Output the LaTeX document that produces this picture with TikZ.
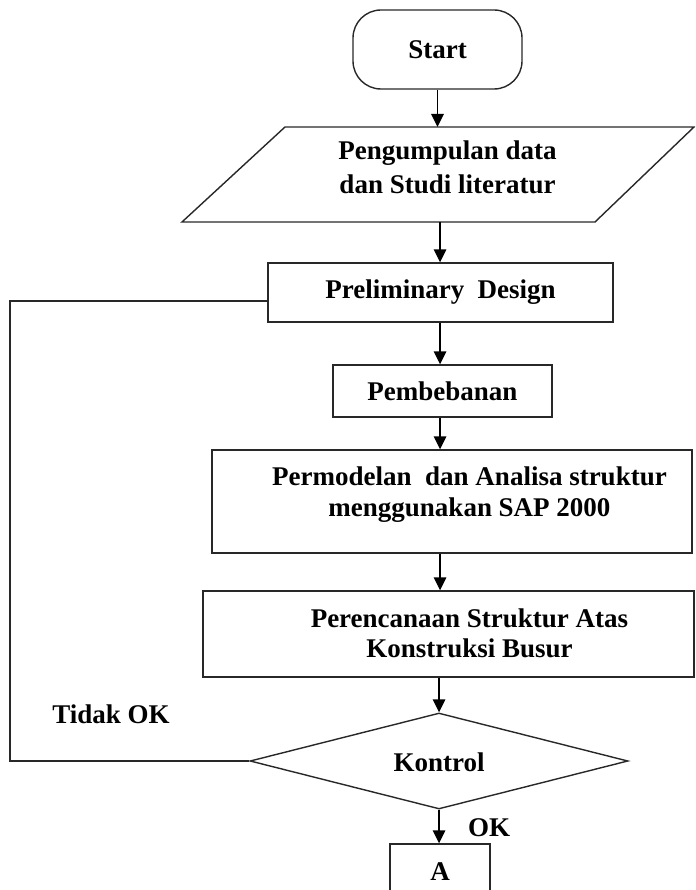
\documentclass[tikz,border=0pt]{standalone}
\usepackage{fontspec}
\setmainfont{Liberation Serif}
\usetikzlibrary{arrows.meta,shapes.geometric,calc}
\definecolor{linecol}{RGB}{40,40,40}
\begin{document}
\begin{tikzpicture}[x=1pt,y=-1pt,
  every node/.style={font=\fontsize{27}{31}\selectfont\bfseries, text=black},
  box/.style={draw=linecol, line width=1.4pt, inner sep=0pt, fill=white},
  txt/.style={align=center, inner sep=0pt},
  line/.style={draw=linecol, line width=1.4pt},
  conn/.style={draw=black, line width=1.6pt, -{Triangle[length=13pt,width=12.5pt]}}]
\clip (0,0) rectangle (695,890);
\fill[white] (0,0) rectangle (695,890);

% Start
\node[box, rounded corners=28pt, minimum width=169pt, minimum height=79pt] (start) at (437.5,49.5) {Start};

% Parallelogram
\coordinate (p1) at (285,127);
\coordinate (p2) at (694,127);
\coordinate (p3) at (595,222);
\coordinate (p4) at (182,222);
\coordinate (pgmbot) at (440,222);
\draw[line] (p1) -- (p2) -- (p3) -- (p4) -- cycle;
\node[txt, font=\fontsize{27}{34}\selectfont\bfseries] (pgmtext) at (447.5,167) {Pengumpulan data\\dan Studi literatur};

% Preliminary design
\node[box, minimum width=345pt, minimum height=59pt] (prelim) at (440.5,292.5) {Preliminary\ \ Design};

% Pembebanan
\node[box, minimum width=219pt, minimum height=52pt] (pemb) at (442.5,391) {Pembebanan};

% Permodelan
\node[box, minimum width=480pt, minimum height=103pt] (perm) at (452,501.5) {};
\node[txt] (permtext) at (469.5,495) {Permodelan\ \ dan Analisa struktur\\menggunakan SAP 2000};

% Perencanaan
\node[box, minimum width=491pt, minimum height=86pt] (peren) at (448.5,634) {};
\node[txt, font=\fontsize{27}{30}\selectfont\bfseries] (perentext) at (469.5,633) {Perencanaan Struktur Atas\\Konstruksi Busur};

% Kontrol
\node[box, diamond, minimum width=378pt, minimum height=96pt] (kontrol) at (439,761) {};
\node[txt] (kontroltext) at (439,762) {Kontrol};

% A
\node[box, minimum width=100pt, minimum height=55pt] (a) at (440,871.5) {A};

% Labels
\node[txt] (tidak) at (111,714) {Tidak OK};
\node[txt] (ok) at (489,828) {OK};

% Connectors
\draw[conn] (start.south) -- (start.south |- p1);
\draw[conn] (pgmbot) -- (pgmbot |- prelim.north);
\draw[conn] (prelim.south -| pgmbot) -- (pgmbot |- pemb.north);
\draw[conn] (pemb.south -| pgmbot) -- (pgmbot |- perm.north);
\draw[conn] (perm.south -| pgmbot) -- (pgmbot |- peren.north);
\draw[conn] (peren.south -| kontrol.north) -- (kontrol.north);
\draw[conn] (kontrol.south) -- (kontrol.south |- a.north);

% Feedback
\coordinate (fbl) at (10,761);
\coordinate (fbt) at (10,301);
\draw[line] (kontrol.west) -- (fbl) -- (fbt) -- (fbt -| prelim.west);
\end{tikzpicture}
\end{document}
